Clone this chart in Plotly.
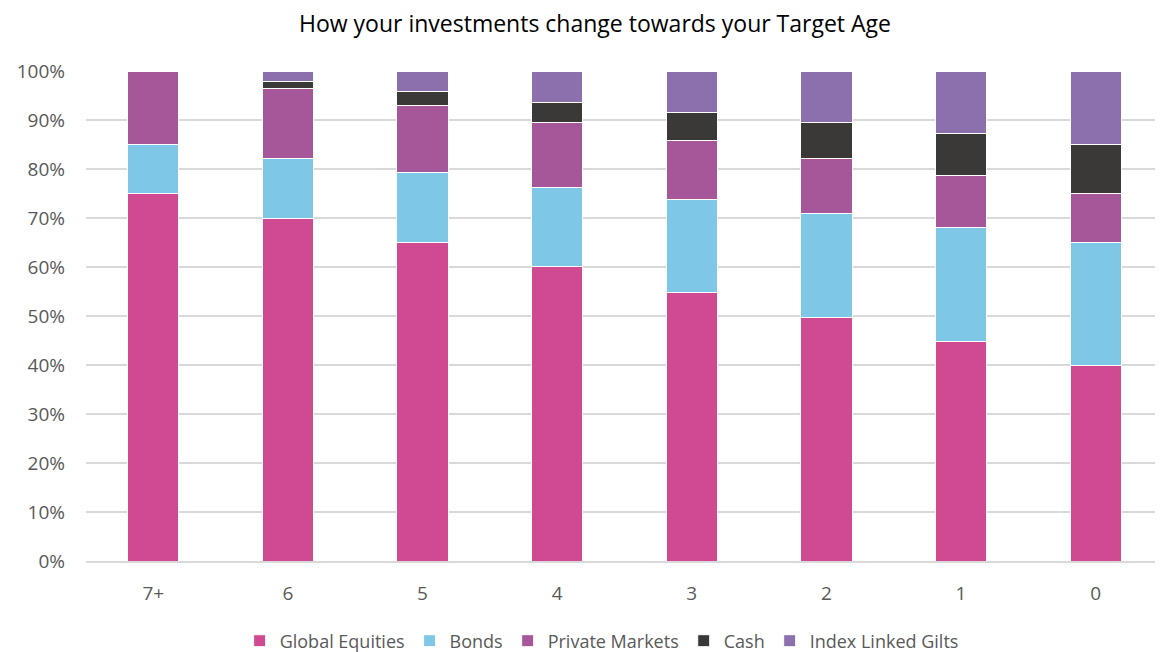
import plotly.graph_objects as go

categories = ["7+", "6", "5", "4", "3", "2", "1", "0"]
global_equities = [75, 70, 65, 60.2, 54.7, 49.7, 44.8, 40]
bonds = [10, 12.2, 14.2, 16.1, 19, 21.2, 23.2, 25]
private_markets = [15, 14.3, 13.8, 13.1, 12.1, 11.3, 10.7, 10]
cash = [0, 1.3, 2.8, 4.1, 5.7, 7.2, 8.5, 10]
index_linked_gilts = [0, 2.2, 4.2, 6.5, 8.5, 10.6, 12.8, 15]

series = [
    ("Global Equities", global_equities, "#D04A91"),
    ("Bonds", bonds, "#7FC7E6"),
    ("Private Markets", private_markets, "#A6579A"),
    ("Cash", cash, "#3A3937"),
    ("Index Linked Gilts", index_linked_gilts, "#8C6FAD"),
]

fig = go.Figure()
for name, vals, color in series:
    fig.add_trace(go.Bar(
        x=categories,
        y=[v / 100 for v in vals],
        name=name,
        marker=dict(color=color, line=dict(color="white", width=1)),
    ))

W, H = 1155, 644
font_family = "'Open Sans', 'Noto Sans', sans-serif"
fig.update_layout(
    barmode="stack",
    bargap=0.62,
    width=W,
    height=H,
    margin=dict(l=78, r=0, t=63, b=91, autoexpand=False),
    paper_bgcolor="white",
    plot_bgcolor="white",
    font=dict(family=font_family, size=18, color="#595959"),
    title=dict(
        text="How your investments change towards your Target Age",
        x=(595 - 8) / W, xanchor="center",
        y=1 - (24 - 8) / H, yanchor="middle",
        font=dict(size=23, color="#000000", family=font_family),
    ),
    legend=dict(
        orientation="h", x=(601 - 8 - 40) / W, xanchor="center",
        yref="container", y=1 - (641 - 8) / H, yanchor="middle",
        font=dict(size=18, color="#595959"),
        itemwidth=30, traceorder="normal",
    ),
    yaxis=dict(
        range=[0, 1], tickformat=".0%", dtick=0.1,
        gridcolor="#D9D9D9", gridwidth=2, zeroline=False,
        showline=False, ticks="", ticklabelstandoff=20,
        tickfont=dict(size=19, color="#595959"),
    ),
    xaxis=dict(
        showline=True, linecolor="#D9D9D9", linewidth=2,
        ticks="", ticklabelstandoff=14,
        tickfont=dict(size=19, color="#595959"),
    ),
)

fig.write_html("out.html")
